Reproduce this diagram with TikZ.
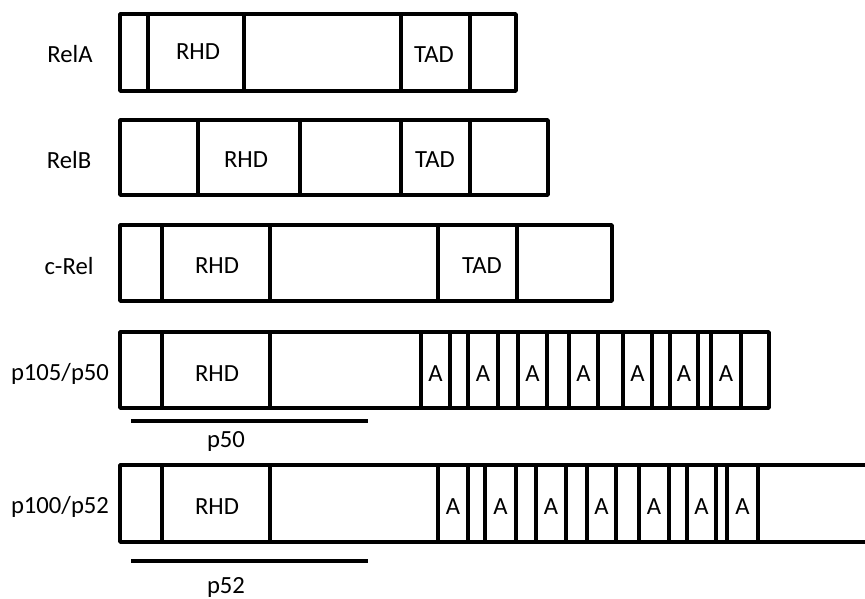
\documentclass[tikz,border=0pt]{standalone}
\usepackage{fontspec}
\setmainfont{Carlito}
\usetikzlibrary{positioning}

\begin{document}
\begin{tikzpicture}[x=0.75pt, y=-0.75pt, line width=2.8pt, line join=round,
    font=\fontsize{18.5}{22}\selectfont,
    protname/.style={anchor=center},
    domlabel/.style={anchor=center, inner sep=1pt}]
  \useasboundingbox (0,0) rectangle (865,599);

  % RelA
  \draw (120,14) rectangle (516,91);
  \draw (148,14) -- (148,91) (244,14) -- (244,91) (401,14) -- (401,91) (470,14) -- (470,91);
  \node[protname] (relA) at (70,54) {RelA};
  \node[domlabel] (relArhd) at (198,52) {RHD};
  \node[domlabel] (relAtad) at (434,55) {TAD};

  % RelB
  \draw (120,120) rectangle (548,195);
  \draw (198,120) -- (198,195) (300,120) -- (300,195) (401,120) -- (401,195) (470,120) -- (470,195);
  \node[protname] (relB) at (69,160) {RelB};
  \node[domlabel] (relBrhd) at (246,160) {RHD};
  \node[domlabel] (relBtad) at (435,160) {TAD};

  % c-Rel
  \draw (120,225) rectangle (612,301);
  \draw (162,225) -- (162,301) (270,225) -- (270,301) (438,225) -- (438,301) (517,225) -- (517,301);
  \node[protname] (cRel) at (69,266) {c-Rel};
  \node[domlabel] (cRelrhd) at (217,266) {RHD};
  \node[domlabel] (cReltad) at (482,266) {TAD};

  % p105/p50
  \draw (120,332) rectangle (769,408);
  \draw (162,332) -- (162,408) (270,332) -- (270,408);
  \node[protname] (p105) at (60,374) {p105/p50};
  \node[domlabel] (p105rhd) at (217,374) {RHD};
  \foreach \l/\r [count=\i] in {421/450, 468/498, 518/547, 569/598, 623/652, 670/698, 711/741} {
    \draw (\l,332) -- (\l,408) (\r,332) -- (\r,408);
    \node[domlabel] (p105ank\i) at ({(\l+\r)/2},374) {A};
  }
  \draw (131,421) -- (368,421);
  \node[protname] (p50) at (226,441) {p50};

  % p100/p52
  \draw (865,465) -- (120,465) -- (120,542) -- (865,542);
  \draw (162,465) -- (162,542) (270,465) -- (270,542);
  \node[protname] (p100) at (60,507) {p100/p52};
  \node[domlabel] (p100rhd) at (217,507) {RHD};
  \foreach \l/\r [count=\i] in {438/468, 485/516, 536/566, 587/616, 639/669, 687/716, 727/758} {
    \draw (\l,465) -- (\l,542) (\r,465) -- (\r,542);
    \node[domlabel] (p100ank\i) at ({(\l+\r)/2},507) {A};
  }
  \draw (131,561) -- (368,561);
  \node[protname] (p52) at (226,587) {p52};
\end{tikzpicture}
\end{document}
